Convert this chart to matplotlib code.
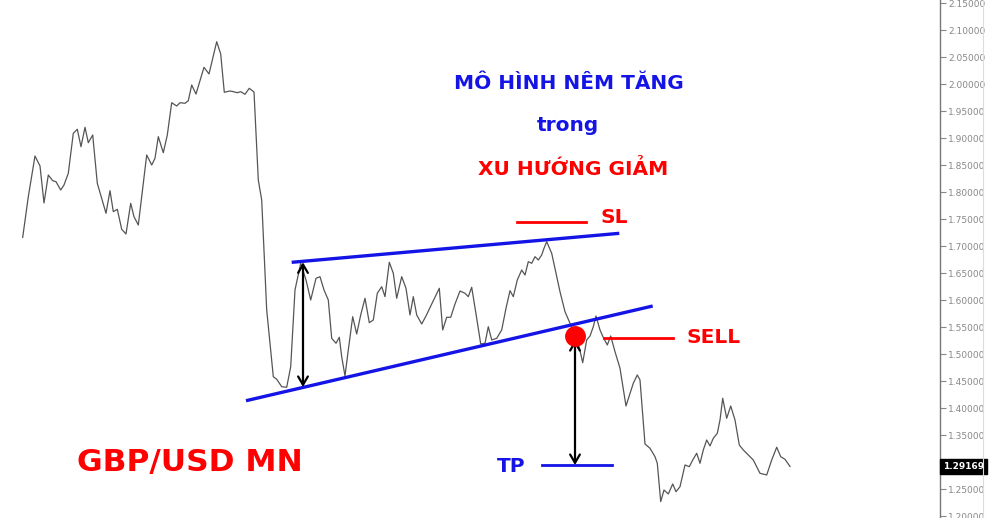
import numpy as np
import matplotlib
matplotlib.use('Agg')
from matplotlib import pyplot as plt
from matplotlib import transforms

# price series (time index, GBP/USD monthly close)
t = [22.7, 28.3, 35, 40, 44, 48.3, 52.7, 56, 60.7, 64, 68.3, 73.3, 77.3, 81, 85, 88.3, 92.7,
     97.3, 106, 110, 113.3, 117.3, 121.7, 126, 130.7, 134, 138.3, 146.7, 151.7, 155, 158.3,
     163.3, 167.3, 171.7, 176.7, 180, 185, 188.3, 191.7, 196, 204, 209, 216.7, 220.7, 224.3,
     230, 233.3, 237.3, 240.7, 245, 249.3, 254, 258.3, 261.7, 266.7, 273.3, 276.7, 281.7,
     286.7, 290.7, 295, 300.7, 306, 310.7, 316, 320, 324, 328.3, 331.7, 336, 339.3, 341.7,
     345, 348.3, 352.7, 356.7, 360.7, 365, 369.3, 373.3, 377.3, 381.7, 385, 389.3, 393.3,
     396.7, 401.7, 406, 410, 413.3, 416.7, 421.7, 426, 431.7, 439.3, 442.7, 446.7, 450.7,
     455, 460, 465, 468.3, 471.7, 476.7, 480.7, 485, 488.3, 491.7, 496.7, 501.7, 506, 510,
     513.3, 517.3, 521.7, 525, 528.3, 531.7, 535, 538.3, 541.7, 544, 546.7, 551.7, 556, 560,
     565, 570, 575, 578.3, 582.7, 586.7, 590, 593.3, 596, 600, 603.3, 607.3, 610.7, 615, 620,
     626, 633.3, 637.3, 640, 645, 650, 655, 657.3, 660.7, 664, 668.3, 672.7, 676, 680, 685,
     689.3, 692.7, 696.7, 700, 703.3, 706.7, 710, 713.3, 717.3, 720, 722.7, 726.7, 730.7,
     735, 739.3, 743.3, 748.3, 753.3, 760, 766.7, 771.7, 776.7, 780.7, 785, 790]
price = [1.7161, 1.7913, 1.8667, 1.8482, 1.7797, 1.8315, 1.8210, 1.8191, 1.8037, 1.8130,
         1.8347, 1.9087, 1.9162, 1.8839, 1.9199, 1.8913, 1.9056, 1.8162, 1.7606, 1.8025,
         1.7636, 1.7680, 1.7310, 1.7223, 1.7791, 1.7543, 1.7389, 1.8686, 1.8500, 1.8625,
         1.9025, 1.8728, 1.9056, 1.9654, 1.9593, 1.9654, 1.9643, 1.9691, 1.9982, 1.9815,
         2.0310, 2.0186, 2.0784, 2.0556, 1.9847, 1.9871, 1.9858, 1.9839, 1.9858, 1.9810,
         1.9921, 1.9852, 1.8223, 1.7852, 1.5815, 1.4580, 1.4532, 1.4395, 1.4384, 1.4765,
         1.6186, 1.6680, 1.6371, 1.6000, 1.6402, 1.6432, 1.6186, 1.6000, 1.5291, 1.5199,
         1.5310, 1.4950, 1.4593, 1.5075, 1.5691, 1.5371, 1.5723, 1.6032, 1.5580, 1.5630,
         1.6125, 1.6247, 1.6062, 1.6699, 1.6495, 1.6032, 1.6432, 1.6217, 1.5723, 1.6062,
         1.5723, 1.5556, 1.5704, 1.5926, 1.6217, 1.5445, 1.5680, 1.5680, 1.5926, 1.6167,
         1.6125, 1.6062, 1.6236, 1.5662, 1.5186, 1.5199, 1.5506, 1.5260, 1.5291, 1.5445,
         1.5847, 1.6173, 1.6062, 1.6371, 1.6556, 1.6463, 1.6710, 1.6680, 1.6802, 1.6741,
         1.6834, 1.6958, 1.7080, 1.6865, 1.6495, 1.6154, 1.5784, 1.5569, 1.5384, 1.5199,
         1.4839, 1.5260, 1.5334, 1.5506, 1.5704, 1.5445, 1.5306, 1.5167, 1.5334, 1.5043,
         1.4736, 1.4037, 1.4458, 1.4612, 1.4519, 1.3334, 1.3254, 1.3099, 1.2976, 1.2266,
         1.2482, 1.2408, 1.2593, 1.2450, 1.2543, 1.2945, 1.2913, 1.3037, 1.3162, 1.2976,
         1.3223, 1.3408, 1.3297, 1.3439, 1.3532, 1.3778, 1.4180, 1.3810, 1.4037, 1.3778,
         1.3315, 1.3223, 1.3130, 1.3037, 1.2791, 1.2760, 1.3037, 1.3273, 1.3099, 1.3050,
         1.2917]
last_price = 1.29169

# wedge lines (start/end)
upper_x = [291.7, 619.3]
upper_y = [1.6698, 1.7235]
lower_x = [246.0, 652.7]
lower_y = [1.4135, 1.5889]

# trade levels
entry_x, entry_y = 575, 1.5333
sl_x, sl_y = [517, 586], 1.7445
sell_x, sell_y = [604, 673], 1.5290
tp_x, tp_y = [542, 612], 1.2944

yticks = np.arange(1.20, 2.151, 0.05)

blue = '#1414e6'
red = '#ff0000'

fig = plt.figure(figsize=(10, 5.18), dpi=100)
ax = fig.add_axes([0, 0, 0.94, 1])
ax.set_xlim(0, 940)
ax.set_ylim(1.1963, 2.1556)

ax.plot(t, price, color='#555555', linewidth=0.9)

# wedge
ax.plot(upper_x, upper_y, color=blue, linewidth=2.4, solid_capstyle='butt')
ax.plot(lower_x, lower_y, color=blue, linewidth=2.4, solid_capstyle='butt')

arrow = dict(arrowstyle='<->,head_width=0.35,head_length=0.6', color='black', lw=1.6,
             shrinkA=0, shrinkB=0)
# wedge height arrow
ax.annotate('', xy=(303, 1.4389), xytext=(303, 1.6698), arrowprops=arrow)
# target arrow
ax.annotate('', xy=(575, tp_y), xytext=(575, 1.5259), arrowprops=arrow)

# levels
ax.plot(sl_x, [sl_y, sl_y], color=red, linewidth=2.0)
ax.plot(sell_x, [sell_y, sell_y], color=red, linewidth=2.0)
ax.plot(tp_x, [tp_y, tp_y], color=blue, linewidth=2.0)
ax.plot([entry_x], [entry_y], marker='o', markersize=14, color=red, zorder=5)

# texts
ax.text(600, sl_y + 0.009, 'SL', color=red, fontsize=14.5, fontweight='bold', va='center', ha='left')
ax.text(686, sell_y + 0.002, 'SELL', color=red, fontsize=14.5, fontweight='bold', va='center', ha='left')
ax.text(497, tp_y - 0.002, 'TP', color=blue, fontsize=14.5, fontweight='bold', va='center', ha='left')
ax.text(569, 2.001, 'MÔ HÌNH NÊM TĂNG', color=blue, fontsize=14.5, fontweight='bold', ha='center', va='center')
ax.text(568, 1.924, 'trong', color=blue, fontsize=14.5, fontweight='bold', ha='center', va='center')
ax.text(573, 1.843, 'XU HƯỚNG GIẢM', color=red, fontsize=14.5, fontweight='bold', ha='center', va='center')
ax.text(190, 1.2993, 'GBP/USD MN', color=red, fontsize=22.5, fontweight='bold', ha='center', va='center')

# right price axis
for s in ['top', 'left', 'bottom']:
    ax.spines[s].set_visible(False)
ax.spines['right'].set_color('#777777')
ax.spines['right'].set_linewidth(1.0)
ax.set_xticks([])
ax.yaxis.tick_right()
ax.set_yticks(yticks)
# 1.30 label sits under the current price tag
ax.set_yticklabels(['' if abs(v - 1.30) < 1e-6 else f'{v:.5f}' for v in yticks])
ax.tick_params(axis='y', direction='out', length=4, width=0.8, color='#888888',
               labelsize=6.5, labelcolor='#888888', pad=2)

# current price tag
trans = transforms.blended_transform_factory(ax.transAxes, ax.transData)
ax.text(1.003, last_price, f'{last_price:.5f}', transform=trans, color='white', fontsize=6.5,
        fontweight='bold', va='center', ha='left', clip_on=False,
        bbox=dict(boxstyle='square,pad=0.3', facecolor='black', edgecolor='black'))

# image border on the right
fig.add_artist(plt.Line2D([0.983, 0.983], [0, 1], transform=fig.transFigure, color='#dddddd', linewidth=0.8))

fig.savefig('out.png', dpi=100)
